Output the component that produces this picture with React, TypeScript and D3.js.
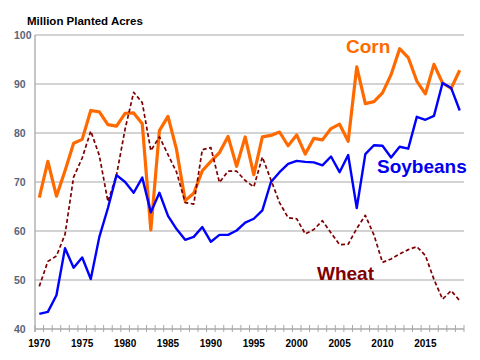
import React from "react";
import * as d3 from "d3";

const years: number[] = d3.range(1970, 2020);
const corn: number[] = [66.8, 74.2, 67.1, 72.3, 77.9, 78.7, 84.6, 84.3, 81.7, 81.4, 84.0, 84.1, 81.9, 60.2, 80.5, 83.4, 76.6, 66.2, 67.7, 72.3, 74.2, 76.0, 79.3, 73.2, 79.2, 71.5, 79.2, 79.5, 80.2, 77.4, 79.6, 75.7, 78.9, 78.6, 80.9, 81.8, 78.3, 93.5, 86.0, 86.4, 88.2, 91.9, 97.2, 95.4, 90.6, 88.0, 94.0, 90.2, 89.1, 92.8];
const soybeans: number[] = [43.1, 43.5, 46.9, 56.5, 52.5, 54.6, 50.2, 58.8, 64.7, 71.4, 70.0, 67.8, 70.9, 63.8, 67.8, 63.1, 60.4, 58.2, 58.8, 60.8, 57.8, 59.2, 59.2, 60.1, 61.7, 62.5, 64.2, 70.0, 72.0, 73.7, 74.3, 74.1, 74.0, 73.4, 75.2, 72.0, 75.5, 64.7, 75.7, 77.5, 77.4, 75.0, 77.2, 76.8, 83.3, 82.7, 83.5, 90.2, 89.2, 84.6];
const wheat: number[] = [48.7, 53.8, 54.9, 59.3, 71.0, 74.9, 80.4, 75.4, 66.0, 71.4, 80.8, 88.3, 86.2, 76.4, 79.2, 75.6, 72.0, 65.8, 65.5, 76.6, 77.0, 69.9, 72.2, 72.2, 70.3, 69.0, 75.1, 70.4, 65.8, 62.7, 62.5, 59.4, 60.3, 62.1, 59.6, 57.2, 57.3, 60.5, 63.2, 59.2, 53.6, 54.3, 55.3, 56.2, 56.8, 55.0, 50.1, 46.1, 47.8, 45.8];
const yTicks: number[] = [40, 50, 60, 70, 80, 90, 100];
const xLabels: number[] = [1970, 1975, 1980, 1985, 1990, 1995, 2000, 2005, 2010, 2015];

export default function App() {
  const W = 480, H = 360;
  const x = d3.scaleBand<number>().domain(years).range([35, 464]).padding(0);
  const bw = x.bandwidth();
  const cx = (yr: number) => (x(yr) as number) + bw / 2;
  const y = d3.scaleLinear().domain([40, 100]).range([329, 35]);
  const line = (vals: number[]) =>
    d3.line<number>().x((_, i) => cx(years[i])).y((v) => y(v))(vals) as string;
  const boundaries = d3.range(years.length + 1).map((i) => 35 + i * bw);
  const font = "'Liberation Sans', Arial, sans-serif";
  return (
    <svg width={W} height={H} style={{ position: "absolute", left: 0, top: 0, background: "#fff" }} fontFamily={font}>
      <text x={27} y={25} fontSize={11.5} fontWeight="bold" fill="#000">Million Planted Acres</text>
      {yTicks.filter((t) => t > 40).map((t) => (
        <line key={t} x1={35} x2={464} y1={y(t)} y2={y(t)} stroke="#c4c4c4" strokeWidth={1.3} />
      ))}
      {yTicks.map((t) => (
        <text key={"l" + t} x={14} y={y(t)} dy="0.35em" fontSize={10.5} fontWeight="bold" fill="#5a6478">{t}</text>
      ))}
      <line x1={35} x2={35} y1={35} y2={332} stroke="#a8a8a8" strokeWidth={1.3} />
      <line x1={35} x2={464} y1={329} y2={329} stroke="#a8a8a8" strokeWidth={1.3} />
      {boundaries.map((b, i) => (
        <line key={"t" + i} x1={b} x2={b} y1={325} y2={332} stroke="#a8a8a8" strokeWidth={1} />
      ))}
      {xLabels.map((yr) => (
        <text key={"x" + yr} x={cx(yr)} y={347} textAnchor="middle" fontSize={10} fontWeight="bold" fill="#000">{yr}</text>
      ))}
      <path d={line(corn)} fill="none" stroke="#ff6a00" strokeWidth={3.2} strokeLinejoin="round" />
      <path d={line(wheat)} fill="none" stroke="#7f0000" strokeWidth={1.7} strokeDasharray="4,2.5" strokeLinejoin="round" />
      <path d={line(soybeans)} fill="none" stroke="#0000ff" strokeWidth={2.4} strokeLinejoin="round" />
      <text x={346} y={53} fontSize={19} fontWeight="bold" fill="#ff6a00">Corn</text>
      <text x={377} y={173} fontSize={19} fontWeight="bold" fill="#0000ee">Soybeans</text>
      <text x={317} y={280} fontSize={19} fontWeight="bold" fill="#7f0000">Wheat</text>
    </svg>
  );
}
